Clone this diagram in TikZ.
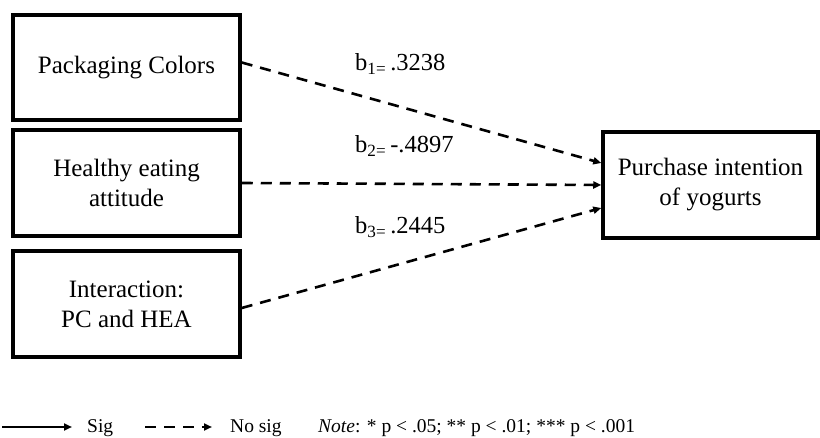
\documentclass[tikz,border=0pt]{standalone}
\usepackage{fontspec}
\setmainfont{Liberation Serif}
\usetikzlibrary{arrows.meta,calc}
\tikzset{
  box/.style={draw, line width=3.5pt, rectangle, align=center, inner sep=0pt, font=\fontsize{25}{30}\selectfont},
  dasharrow/.style={line width=2.6pt, dash pattern=on 11pt off 8pt, -{Triangle[length=8pt,width=7pt]}},
  solidarrow/.style={line width=2.6pt, -{Triangle[length=8pt,width=7pt]}},
  lbl/.style={anchor=base west, inner sep=0pt, font=\fontsize{24.5}{29}\selectfont},
  leg/.style={anchor=base west, inner sep=0pt, font=\fontsize{19.5}{23}\selectfont}
}
\begin{document}
\begin{tikzpicture}[x=1pt,y=-1pt]
\useasboundingbox (0,0) rectangle (820,438);
\node[box, minimum width=227pt, minimum height=105pt] (pc) at (126.5,67.5) {Packaging Colors};
\node[box, minimum width=227pt, minimum height=106pt] (hea) at (126.5,183) {Healthy eating\\attitude};
\node[box, minimum width=227pt, minimum height=106pt] (int) at (126.5,304) {Interaction:\\PC and HEA};
\node[box, minimum width=215pt, minimum height=106pt] (pi) at (710.5,185) {Purchase intention\\of yogurts};
\draw[dasharrow] ($(pc.east)+(0,-5)$) -- ($(pi.west)+(0,-22)$);
\draw[dasharrow] (hea.east) -- (pi.west);
\draw[dasharrow] ($(int.east)+(0,4)$) -- ($(pi.west)+(0,23)$);
\node[lbl] (l1) at (355,71) {b\textsubscript{1=}\,.3238};
\node[lbl] (l2) at (355,153) {b\textsubscript{2=}\,-.4897};
\node[lbl] (l3) at (355,234) {b\textsubscript{3=}\,.2445};
\coordinate (s1) at (2,427);
\coordinate (s2) at (72,427);
\coordinate (d1) at (145,427);
\coordinate (d2) at (212,427);
\draw[solidarrow] (s1) -- (s2);
\draw[dasharrow] (d1) -- (d2);
\node[leg] (sig) at (87,433) {Sig};
\node[leg] (nosig) at (230,433) {No sig};
\node[leg] (note) at (318,433) {\textit{Note}: * p < .05; ** p < .01; *** p < .001};
\end{tikzpicture}
\end{document}
